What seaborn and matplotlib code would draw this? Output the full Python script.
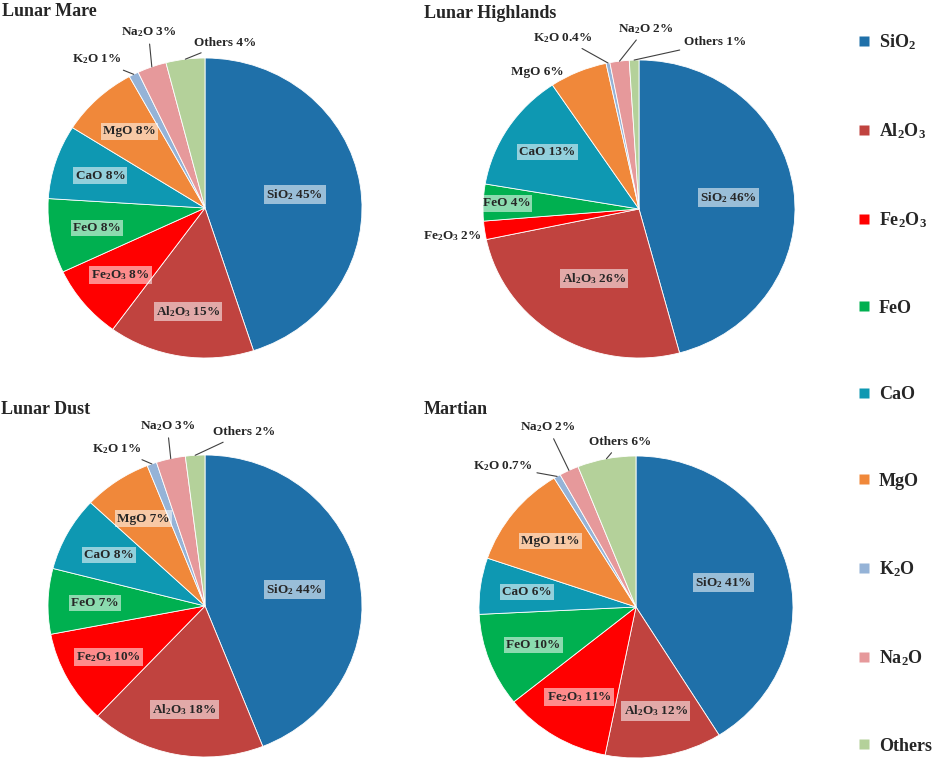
import numpy as np
import matplotlib
matplotlib.use("Agg")
import matplotlib.pyplot as plt
from matplotlib.lines import Line2D
import seaborn as sns

# Oxide composition data (percent)
oxides = ['SiO$_2$', 'Al$_2$O$_3$', 'Fe$_2$O$_3$', 'FeO', 'CaO', 'MgO', 'K$_2$O', 'Na$_2$O', 'Others']
lunar_mare = [45, 15, 8, 8, 8, 8, 1, 3, 4]
lunar_highlands = [46, 26, 2, 4, 13, 6, 0.4, 2, 1]
lunar_dust = [44, 18, 10, 7, 8, 7, 1, 3, 2]
martian = [41, 12, 11, 10, 6, 11, 0.7, 2, 6]
titles = ['Lunar Mare', 'Lunar Highlands', 'Lunar Dust', 'Martian']

colors = sns.color_palette(['#1F70A9', '#C0433F', '#FF0000', '#00B050', '#0E98B2',
                            '#F0883A', '#95B3D7', '#E6999B', '#B4D19A'])

sns.set_theme(style='white')
plt.rcParams['font.family'] = ['Liberation Serif', 'DejaVu Serif']
plt.rcParams['font.weight'] = 'bold'
plt.rcParams['mathtext.fontset'] = 'custom'
plt.rcParams['mathtext.rm'] = 'Liberation Serif:bold'
plt.rcParams['mathtext.it'] = 'Liberation Serif:bold'
plt.rcParams['mathtext.bf'] = 'Liberation Serif:bold'
plt.rcParams['mathtext.default'] = 'rm'

W, H = 941, 761
fig = plt.figure(figsize=(W / 100, H / 100), dpi=100)

# panel layout in pixels: centre, radii, title position; label spots in radius units
panels = [
    dict(data=lunar_mare, c=(205, 208), r=(157, 150), t=(2, 12),
         outside={6: (-0.69, 0.99), 7: (-0.36, 1.17), 8: (0.13, 1.10)},
         leader=[6, 7, 8], dist={}),
    dict(data=lunar_highlands, c=(639, 209), r=(156, 149), t=(424, 14),
         outside={2: (-1.20, -0.18), 5: (-0.65, 0.92), 6: (-0.49, 1.15),
                  7: (0.04, 1.21), 8: (0.49, 1.12)},
         leader=[6, 7, 8], dist={1: 0.55, 3: 0.85}),
    dict(data=lunar_dust, c=(205, 606), r=(157, 151), t=(1, 410),
         outside={6: (-0.56, 1.04), 7: (-0.24, 1.19), 8: (0.25, 1.15)},
         leader=[6, 7, 8], dist={}),
    dict(data=martian, c=(636, 607), r=(157, 151), t=(424, 410),
         outside={6: (-0.85, 0.93), 7: (-0.56, 1.19), 8: (-0.10, 1.09)},
         leader=[6, 7, 8], dist={}),
]

for p, title in zip(panels, titles):
    cx, cy = p['c']
    rx, ry = p['r']
    ax = fig.add_axes([(cx - rx) / W, 1 - (cy + ry) / H, 2 * rx / W, 2 * ry / H])
    vals = np.array(p['data'], dtype=float)
    wedges, _ = ax.pie(vals, colors=colors, startangle=90, counterclock=False,
                       wedgeprops=dict(edgecolor='white', linewidth=0.6))
    ax.set_aspect('auto')
    ax.set_xlim(-1, 1)
    ax.set_ylim(-1, 1)
    ax.axis('off')

    for i, w in enumerate(wedges):
        ang = np.deg2rad((w.theta1 + w.theta2) / 2)
        label = f'{oxides[i]} {vals[i]:g}%'
        if i in p['outside']:
            tx, ty = p['outside'][i]
            if i in p['leader']:
                ax.annotate(label, xy=(np.cos(ang), np.sin(ang)), xytext=(tx, ty),
                            ha='center', va='center', fontsize=9.5, fontweight='bold',
                            annotation_clip=False,
                            arrowprops=dict(arrowstyle='-', color='#404040', lw=0.8,
                                            shrinkA=1, shrinkB=0))
            else:
                ax.text(tx, ty, label, ha='center', va='center', fontsize=9.5,
                        fontweight='bold', clip_on=False)
        else:
            d = p['dist'].get(i, 0.58 if i == 0 else 0.7)
            ax.text(d * np.cos(ang), d * np.sin(ang), label, ha='center', va='center',
                    fontsize=9.5, fontweight='bold',
                    bbox=dict(facecolor='white', alpha=0.55, edgecolor='none', pad=1.5))

    fig.text(p['t'][0] / W, 1 - p['t'][1] / H, title, ha='left', va='center',
             fontsize=13, fontweight='bold')

handles = [Line2D([], [], marker='s', linestyle='none', markersize=7,
                  markerfacecolor=c, markeredgecolor='none') for c in colors]
fig.legend(handles, oxides, loc='upper left', bbox_to_anchor=(858 / W, 1 - 32 / H),
           frameon=False, labelspacing=3.85, handlelength=0.7, borderpad=0,
           borderaxespad=0, handletextpad=0.45, prop={'weight': 'bold', 'size': 13})

fig.savefig('out.png', dpi=100, facecolor='white')
